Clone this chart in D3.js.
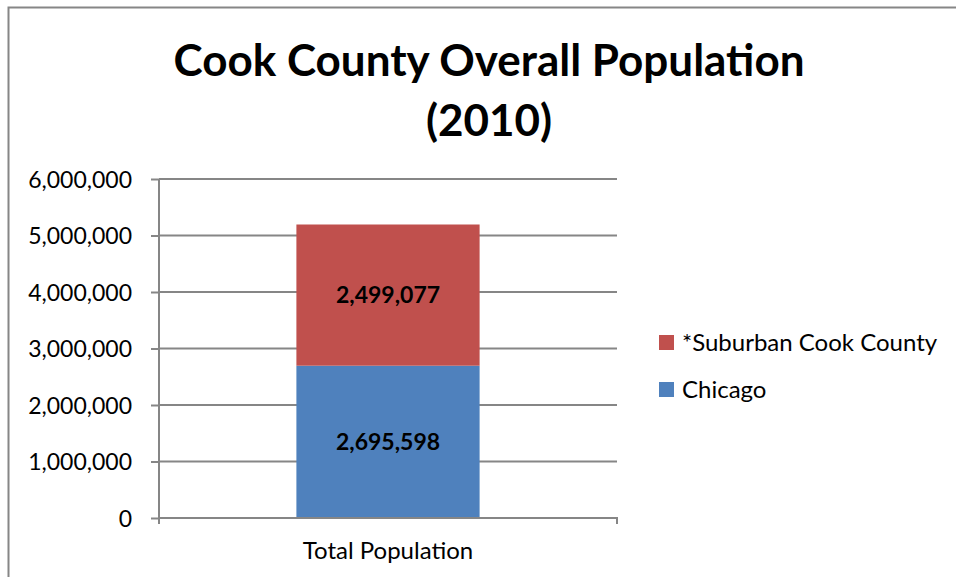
<!DOCTYPE html>
<html>
<head>
<meta charset="utf-8">
<script src="https://cdn.jsdelivr.net/npm/d3@7"></script>
<style>
  body { margin: 0; background: #fff; }
  text { font-family: Lato, "Open Sans", sans-serif; fill: #000; }
</style>
</head>
<body>
<div id="viz"></div>
<script>
const categories = ['Total Population']
const seriesNames = ['Chicago', '*Suburban Cook County']
const chicago = [2695598]
const suburban = [2499077]
const yTicks = [0, 1000000, 2000000, 3000000, 4000000, 5000000, 6000000]
const colors = ['#4f81bd', '#c0504d']

const width = 956
const height = 577
const margin = { left: 159, top: 179, right: 339, bottom: 59 }
const innerW = width - margin.left - margin.right
const innerH = height - margin.top - margin.bottom

const svg = d3.select('#viz')
  .append('svg')
  .attr('width', width)
  .attr('height', height)

// chart frame
svg.append('rect')
  .attr('x', 8.5).attr('y', 7.5)
  .attr('width', 1000).attr('height', 1000)
  .attr('fill', 'none')
  .attr('stroke', '#868686')
  .attr('stroke-width', 2)

svg.append('text')
  .attr('x', 489).attr('y', 76)
  .attr('text-anchor', 'middle')
  .attr('font-size', 44).attr('font-weight', 'bold')
  .text('Cook County Overall Population')
svg.append('text')
  .attr('x', 489).attr('y', 136)
  .attr('text-anchor', 'middle')
  .attr('font-size', 44).attr('font-weight', 'bold')
  .text('(2010)')

const g = svg.append('g')
  .attr('transform', `translate(${margin.left}, ${margin.top})`)

const x = d3.scaleBand().domain(categories).range([0, innerW]).paddingInner(0.6).paddingOuter(0.3)
const y = d3.scaleLinear().domain([0, 6000000]).range([innerH, 0])

// gridlines
g.append('g')
  .selectAll('line')
  .data(yTicks.slice(1))
  .join('line')
  .attr('x1', 0).attr('x2', innerW)
  .attr('y1', d => y(d)).attr('y2', d => y(d))
  .attr('stroke', '#868686').attr('stroke-width', 2)

const table = categories.map((c, i) => ({ cat: c, Chicago: chicago[i], '*Suburban Cook County': suburban[i] }))
const stacked = d3.stack().keys(seriesNames)(table)

const layers = g.selectAll('.layer')
  .data(stacked)
  .join('g')
  .attr('fill', (d, i) => colors[i])

layers.selectAll('rect')
  .data(d => d)
  .join('rect')
  .attr('x', d => x(d.data.cat))
  .attr('width', x.bandwidth())
  .attr('y', d => y(d[1]))
  .attr('height', d => y(d[0]) - y(d[1]))

layers.selectAll('text')
  .data(d => d)
  .join('text')
  .attr('x', d => x(d.data.cat) + x.bandwidth() / 2)
  .attr('y', d => (y(d[0]) + y(d[1])) / 2 + 8)
  .attr('text-anchor', 'middle')
  .attr('font-size', 23).attr('font-weight', 'bold')
  .text(d => d3.format(',')(d[1] - d[0]))

// y axis
const yAxis = g.append('g')
  .call(d3.axisLeft(y).tickValues(yTicks).tickSize(8).tickPadding(19).tickFormat(d3.format(',')))
yAxis.select('.domain').attr('stroke', '#868686').attr('stroke-width', 2).attr('d', `M0,0V${innerH}`)
yAxis.selectAll('.tick line').attr('stroke', '#868686').attr('stroke-width', 2)
yAxis.selectAll('.tick text').attr('font-size', 23).attr('font-family', 'Lato, sans-serif').attr('fill', '#000').attr('dy', '0.35em')

// x axis
const xAxis = g.append('g')
  .attr('transform', `translate(0, ${innerH})`)
  .call(d3.axisBottom(x).tickSize(0).tickPadding(24))
xAxis.select('.domain').attr('stroke', '#868686').attr('stroke-width', 2).attr('d', `M0,0V6H0V0H${innerW}V6`)
xAxis.selectAll('.tick text').attr('font-size', 24).attr('font-family', 'Lato, sans-serif').attr('fill', '#000')

// legend (reverse order: suburban on top)
const legend = svg.append('g').attr('transform', 'translate(659, 335)')
const items = legend.selectAll('g')
  .data(seriesNames.slice().reverse())
  .join('g')
  .attr('transform', (d, i) => `translate(0, ${i * 47})`)
items.append('rect')
  .attr('width', 15).attr('height', 15)
  .attr('fill', d => colors[seriesNames.indexOf(d)])
items.append('text')
  .attr('x', 23).attr('y', 16)
  .attr('font-size', 24)
  .text(d => d)
</script>
</body>
</html>
